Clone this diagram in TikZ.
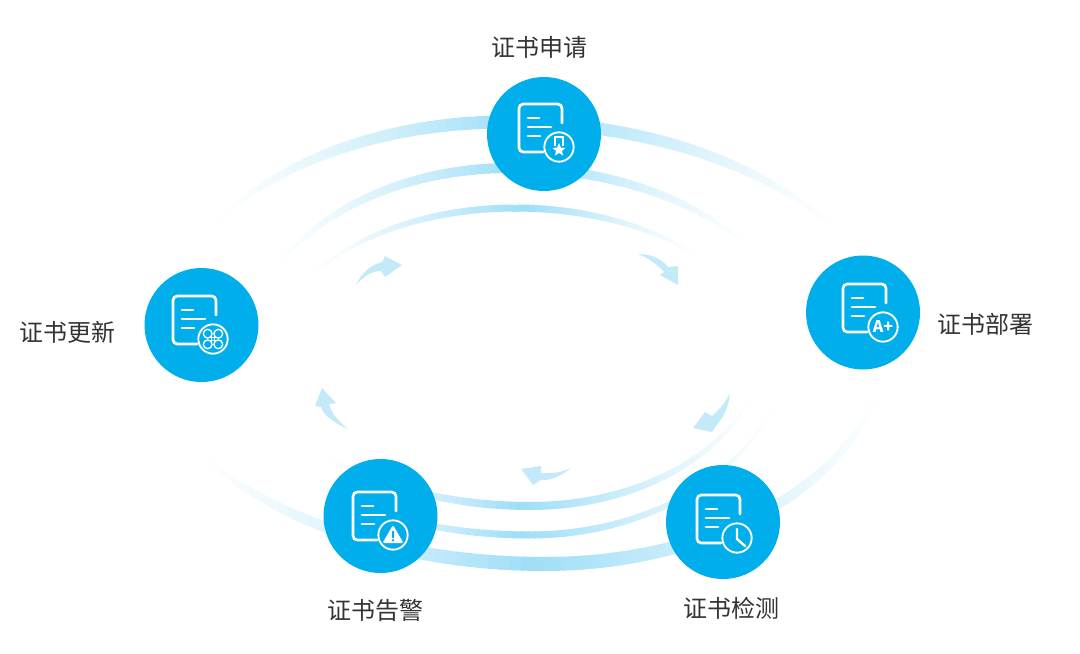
\documentclass[tikz,border=0pt]{standalone}
\usepackage{fontspec}
\setmainfont{Noto Sans CJK SC}
\usetikzlibrary{positioning}
\definecolor{stageblue}{HTML}{00AEEC}
\definecolor{bandblue}{HTML}{9FDEF7}
\definecolor{turnblue}{HTML}{C4EAFA}
\definecolor{labelgray}{HTML}{333333}

% one fading band: cx, cy, rx left, rx right, ry, start, end, peak, width
\newcommand{\bandarc}[9]{
    \foreach \i in {0,...,89} {
        \pgfmathsetmacro\aa{#6+(#7-#6)*\i/90}
        \pgfmathsetmacro\ab{#6+(#7-#6)*(\i+1.25)/90}
        \pgfmathsetmacro\am{(\aa+\ab)/2}
        \pgfmathsetmacro\t{abs(\am-#8)/(\am>#8 ? abs(#7-#8) : abs(#6-#8))}
        \pgfmathsetmacro\lw{0.75*#9*(1-0.85*\t*\t)}
        \pgfmathsetmacro\st{100*(1-\t)^1.6}
        \pgfmathsetmacro\xa{#1+(cos(\aa)>0 ? #4 : #3)*cos(\aa)}
        \pgfmathsetmacro\xb{#1+(cos(\ab)>0 ? #4 : #3)*cos(\ab)}
        \draw[line width=\lw pt, color=bandblue!\st!white] (\xa,{#2-#5*sin(\aa)}) -- (\xb,{#2-#5*sin(\ab)});
    }
}

% document with open corner, origin at its top left
\newcommand{\docicon}[2]{
    \draw[iconline, rounded corners=3.2pt] (43,19) -- (43,0) -- (0,0) -- (0,48) -- (24,48);
    \draw[iconline] (9,14) -- (20,14);
    \draw[iconline] (9,23) -- (32,23);
    \draw[iconline] (9,32) -- (21,32);
    \node[badgering] (#1) at (40,43) {};
    \begin{scope}[shift={(40,43)}]
        #2
    \end{scope}
}

\tikzset{
    iconline/.style = {draw = white, line width = 2pt, line cap = round},
    badgering/.style = {circle, draw = white, line width = 1.4pt, fill = stageblue, minimum size = 22pt, inner sep = 0pt},
    stage/.style = {circle, fill = stageblue, minimum size = 85.5pt, inner sep = 0pt},
    stagetext/.style = {text = labelgray, font = \fontsize{18pt}{20pt}\selectfont, inner sep = 0pt},
    turnarrow/.style = {fill = turnblue, draw = none}
}

\begin{document}
\begin{tikzpicture}[x = 0.75pt, y = -0.75pt]

    \useasboundingbox (0,0) rectangle (1080,653);

    % top bands
    \bandarc{505}{343}{345}{384}{221}{28}{150}{88}{13}
    \bandarc{510}{351}{262}{290}{183}{32}{157}{88}{10}
    \bandarc{515}{356}{242}{247}{148}{39}{152}{88}{7}

    % bottom bands
    \bandarc{545}{343}{397}{340}{221}{207}{352}{268}{14}
    \bandarc{530}{340}{330}{258}{195}{226}{345}{268}{7}
    \bandarc{530}{340}{283}{235}{166}{220}{345}{268}{8}

    % stages
    \node[stage] (apply) at (544,134) {};
    \node[stage] (deploy) at (863,312.5) {};
    \node[stage] (detect) at (723,522) {};
    \node[stage] (alarm) at (380.5,516) {};
    \node[stage] (renew) at (201.5,325) {};

    % labels
    \node[stagetext, above = 15.5pt of apply.north, anchor = base, xshift = -3.7pt] (applytext) {证书申请};
    \node[stagetext, at = (deploy.east), anchor = west, xshift = 13pt, yshift = -8.5pt] (deploytext) {证书部署};
    \node[stagetext, at = (detect.south), anchor = north, xshift = 6pt, yshift = -13.5pt] (detecttext) {证书检测};
    \node[stagetext, at = (alarm.south), anchor = north, xshift = -4pt, yshift = -19pt] (alarmtext) {证书告警};
    \node[stagetext, at = (renew.west), anchor = east, xshift = -21pt, yshift = -5.5pt] (renewtext) {证书更新};

    % icons
    \begin{scope}[shift = {(519,104)}]
        \docicon{applybadge}{
            \draw[white, line width = 1.1pt] (-4,-1) -- (-4,-10) -- (4,-10) -- (4,-1);
            \fill[white] (0,-4) -- (1.9,0.6) -- (6.5,0.9) -- (3,3.9) -- (4.1,8.6) -- (0,6) -- (-4.1,8.6) -- (-3,3.9) -- (-6.5,0.9) -- (-1.9,0.6) -- cycle;
        }
    \end{scope}
    \begin{scope}[shift = {(843,284)}]
        \docicon{deploybadge}{
            \node[text = white, font = \fontsize{12pt}{13pt}\selectfont\bfseries, inner sep = 0pt] (deploygrade) at (0,0) {A+};
        }
    \end{scope}
    \begin{scope}[shift = {(697,495)}]
        \docicon{detectbadge}{
            \draw[white, line width = 1.8pt, line cap = round] (0,-9) -- (0,1) -- (8,8);
        }
    \end{scope}
    \begin{scope}[shift = {(353,492)}]
        \docicon{alarmbadge}{
            \fill[white, rounded corners = 1.5pt] (0,-10) -- (10.5,8) -- (-10.5,8) -- cycle;
            \fill[stageblue] (-1.2,-4) rectangle (1.2,3);
            \fill[stageblue] (0,5.3) circle (1.4);
        }
    \end{scope}
    \begin{scope}[shift = {(173,296)}]
        \docicon{renewbadge}{
            \foreach \sx/\sy in {1/1,-1/1,1/-1,-1/-1} {
                \draw[white, line width = 1pt] (\sx*5.3,\sy*5.3) circle (4.4);
            }
            \draw[white, line width = 1pt] (-5,-1.2) -- (5,-1.2) (-5,1.2) -- (5,1.2) (-1.2,-5) -- (-1.2,5) (1.2,-5) -- (1.2,5);
        }
    \end{scope}

    % turn arrows
    \path[turnarrow] (356,285) .. controls (362,272) and (371,265) .. (382,262) -- (385,256) -- (402,265) -- (385,277) -- (381,271) .. controls (372,271) and (364,276) .. (356,285) -- cycle;
    \path[turnarrow] (638,254) .. controls (650,254) and (661,258) .. (668,267) -- (678,266) -- (678,285) -- (660,275) -- (664,272) .. controls (657,264) and (648,258) .. (638,254) -- cycle;
    \path[turnarrow] (730,393) .. controls (729,404) and (725,415) .. (719,422) -- (712,432) -- (693,428) -- (705,412) -- (712,416) .. controls (719,410) and (726,402) .. (730,393) -- cycle;
    \path[turnarrow] (571,468) .. controls (562,475) and (552,481) .. (541,480) -- (533,485) -- (521,469) -- (541,466) -- (541,473) .. controls (552,474) and (562,472) .. (571,468) -- cycle;
    \path[turnarrow] (348,429) .. controls (337,424) and (324,417) .. (321,407) -- (315,406) -- (322,388) -- (336,403) -- (329,404) .. controls (331,413) and (339,422) .. (348,429) -- cycle;

\end{tikzpicture}
\end{document}
